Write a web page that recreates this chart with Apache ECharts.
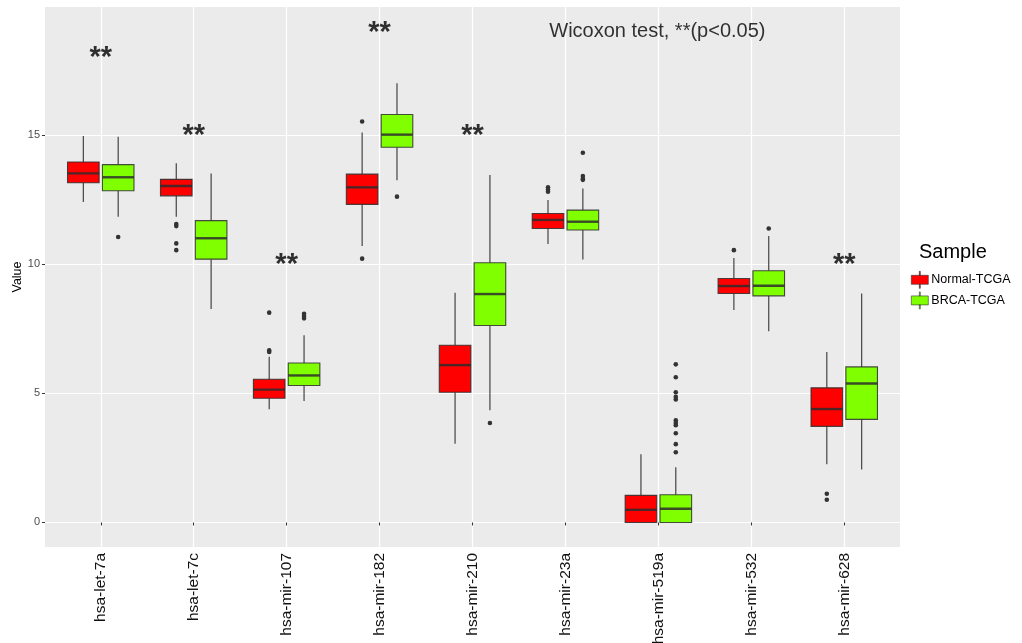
<!DOCTYPE html>
<html>
<head>
<meta charset="utf-8">
<script src="https://cdn.jsdelivr.net/npm/echarts@6/dist/echarts.min.js"></script>
<style>html,body{margin:0;padding:0;background:#fff;}#chart{width:1022px;height:643px;}</style>
</head>
<body>
<div id="chart"></div>
<script>
// ---- data ----
const categories = ['hsa-let-7a','hsa-let-7c','hsa-mir-107','hsa-mir-182','hsa-mir-210','hsa-mir-23a','hsa-mir-519a','hsa-mir-532','hsa-mir-628'];
const seriesNames = ['Normal-TCGA','BRCA-TCGA'];
// [lowerWhisker, Q1, median, Q3, upperWhisker]
const normalBox = [
  [12.40, 13.15, 13.51, 13.95, 14.96],
  [11.83, 12.64, 13.02, 13.28, 13.90],
  [4.38, 4.81, 5.14, 5.54, 6.41],
  [10.70, 12.31, 12.97, 13.48, 15.09],
  [3.05, 5.04, 6.09, 6.86, 8.89],
  [10.78, 11.38, 11.71, 11.96, 12.48],
  [0.00, 0.00, 0.49, 1.05, 2.64],
  [8.22, 8.86, 9.15, 9.44, 10.24],
  [2.25, 3.72, 4.39, 5.21, 6.60]
];
const brcaBox = [
  [11.83, 12.84, 13.36, 13.85, 14.93],
  [8.26, 10.19, 11.00, 11.68, 13.51],
  [4.70, 5.30, 5.69, 6.17, 7.25],
  [13.24, 14.52, 15.01, 15.79, 17.00],
  [4.34, 7.62, 8.84, 10.05, 13.45],
  [10.18, 11.32, 11.64, 12.09, 12.93],
  [0.00, 0.00, 0.53, 1.07, 2.14],
  [7.40, 8.77, 9.16, 9.74, 11.09],
  [2.05, 3.99, 5.38, 6.02, 8.86]
];
// [category position (1-based), value]
const normalOutliers = [
  [2, 11.55], [2, 11.47], [2, 10.80], [2, 10.54],
  [3, 8.12], [3, 6.66], [3, 6.60],
  [4, 15.52], [4, 10.21],
  [6, 12.97], [6, 12.88], [6, 12.80],
  [8, 10.54],
  [9, 1.11], [9, 0.88]
];
const brcaOutliers = [
  [1, 11.05],
  [3, 8.08], [3, 7.98], [3, 7.90],
  [4, 12.61],
  [5, 3.85],
  [6, 14.31], [6, 13.41], [6, 13.30], [6, 13.26],
  [7, 6.12], [7, 5.62], [7, 5.04], [7, 4.86], [7, 4.76], [7, 3.95], [7, 3.85], [7, 3.76], [7, 3.45], [7, 3.03], [7, 2.72],
  [8, 11.38]
];
const yTicks = [0, 5, 10, 15];
const xTicks = [1, 2, 3, 4, 5, 6, 7, 8, 9];
// significance marks: [category position, y]
const sigMarks = [[1, 18], [2, 15], [3, 10], [4, 19], [5, 15], [9, 10]];
const testNote = [[7, 19, 'Wicoxon test, **(p<0.05)']];

// ---- styling constants ----
const FONT = 'Liberation Sans, Arial, Helvetica, sans-serif';
const DODGE = 0.1875;
const BOX_W = 0.34;
const EDGE = 'rgba(45,45,45,0.85)';

function boxRenderer(offset) {
  return function (params, api) {
    const x = api.value(0) + offset;
    const pLo = api.coord([x, api.value(1)]);
    const pQ1 = api.coord([x, api.value(2)]);
    const pMed = api.coord([x, api.value(3)]);
    const pQ3 = api.coord([x, api.value(4)]);
    const pHi = api.coord([x, api.value(5)]);
    const w = api.size([BOX_W, 0])[0];
    const color = api.visual('color');
    return {
      type: 'group',
      children: [
        { type: 'line', shape: { x1: pHi[0], y1: pHi[1], x2: pQ3[0], y2: pQ3[1] }, style: { stroke: '#444', lineWidth: 1.2 } },
        { type: 'line', shape: { x1: pQ1[0], y1: pQ1[1], x2: pLo[0], y2: pLo[1] }, style: { stroke: '#444', lineWidth: 1.2 } },
        { type: 'rect', shape: { x: pQ3[0] - w / 2, y: pQ3[1], width: w, height: pQ1[1] - pQ3[1] }, style: { fill: color, stroke: EDGE, lineWidth: 1.1 } },
        { type: 'line', shape: { x1: pMed[0] - w / 2, y1: pMed[1], x2: pMed[0] + w / 2, y2: pMed[1] }, style: { stroke: EDGE, lineWidth: 2.4 } }
      ]
    };
  };
}
function outlierRenderer(offset) {
  return function (params, api) {
    const p = api.coord([api.value(0) + offset, api.value(1)]);
    return { type: 'circle', shape: { cx: p[0], cy: p[1], r: 2.3 }, style: { fill: '#333' } };
  };
}

const boxData = (arr) => arr.map((b, i) => [i + 1].concat(b));

const chart = echarts.init(document.getElementById('chart'), null, { renderer: 'canvas' });
const legendIcon = 'path://M8,0 H9 V4 H8 Z M0,4 H17 V13 H0 Z M8,13 H9 V17 H8 Z';

chart.setOption({
  animation: false,
  backgroundColor: '#ffffff',
  textStyle: { fontFamily: FONT },
  title: {
    text: 'Sample', left: 914, top: 237, padding: 5,
    textStyle: { fontFamily: FONT, fontSize: 20, fontWeight: 'normal', color: '#000' }
  },
  legend: {
    orient: 'vertical', left: 911, top: 271, padding: 0,
    itemWidth: 17, itemHeight: 17, itemGap: 3,
    data: seriesNames.map(n => ({ name: n, icon: legendIcon })),
    itemStyle: { borderColor: '#333', borderWidth: 0.6 },
    textStyle: { fontFamily: FONT, fontSize: 12.5, color: '#000', padding: [0, 0, 0, -2] },
    selectedMode: false
  },
  grid: {
    left: 45, right: 122, top: 7, bottom: 96,
    outerBoundsMode: 'none', containLabel: false,
    show: true, backgroundColor: '#EBEBEB', borderWidth: 0
  },
  xAxis: {
    type: 'value', min: 0.4, max: 9.6,
    axisLine: { show: false },
    axisTick: { show: true, customValues: xTicks, length: 3, lineStyle: { color: '#333', width: 1 } },
    axisLabel: {
      customValues: xTicks, rotate: 90, margin: 6,
      formatter: v => categories[Math.round(v) - 1] || '',
      fontFamily: FONT, fontSize: 15.5, color: '#111'
    },
    splitLine: { show: true, lineStyle: { color: '#ffffff', width: 1.2 } }
  },
  yAxis: {
    type: 'value', min: -0.95, max: 19.95,
    name: 'Value', nameLocation: 'middle', nameGap: 21, nameMoveOverlap: false,
    nameTextStyle: { fontFamily: FONT, fontSize: 12.5, color: '#000' },
    axisLine: { show: false },
    axisTick: { show: true, customValues: yTicks, length: 3, lineStyle: { color: '#333', width: 1 } },
    axisLabel: { customValues: yTicks, margin: 5, fontFamily: FONT, fontSize: 11, color: '#4d4d4d' },
    splitLine: { show: true, lineStyle: { color: '#ffffff', width: 1.2 } }
  },
  series: [
    {
      name: seriesNames[0], type: 'custom', renderItem: boxRenderer(-DODGE),
      itemStyle: { color: '#FF0000' }, encode: { x: 0, y: [1, 2, 3, 4, 5] },
      data: boxData(normalBox), z: 3
    },
    {
      name: seriesNames[1], type: 'custom', renderItem: boxRenderer(DODGE),
      itemStyle: { color: '#7FFF00' }, encode: { x: 0, y: [1, 2, 3, 4, 5] },
      data: boxData(brcaBox), z: 3
    },
    {
      name: 'normal-outliers', type: 'custom', renderItem: outlierRenderer(-DODGE),
      encode: { x: 0, y: 1 }, data: normalOutliers, z: 4
    },
    {
      name: 'brca-outliers', type: 'custom', renderItem: outlierRenderer(DODGE),
      encode: { x: 0, y: 1 }, data: brcaOutliers, z: 4
    },
    {
      name: 'sig', type: 'scatter', symbolSize: 0, z: 5,
      data: sigMarks,
      label: {
        show: true, position: 'inside', formatter: '**',
        fontFamily: FONT, fontSize: 29, fontWeight: 'bold', color: '#000', offset: [0, 1]
      }
    },
    {
      name: 'note', type: 'scatter', symbolSize: 0, z: 5,
      data: testNote,
      label: {
        show: true, position: 'inside', formatter: p => p.data[2],
        fontFamily: FONT, fontSize: 20, color: '#000', offset: [-1, 0]
      }
    }
  ]
});
</script>
</body>
</html>
